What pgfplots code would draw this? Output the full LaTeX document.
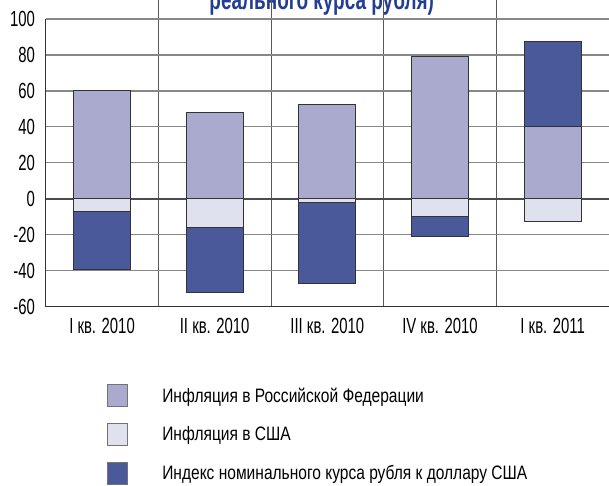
\documentclass[border=0pt]{standalone}
\usepackage{fontspec}
\setmainfont{Liberation Sans}[FakeStretch=0.68]
\newfontfamily\legfont{Liberation Sans}[FakeStretch=0.8]
\usepackage{pgfplots}
\pgfplotsset{compat=1.18}

\definecolor{rfinf}{RGB}{169,170,206}
\definecolor{usinf}{RGB}{223,225,238}
\definecolor{rubidx}{RGB}{74,89,154}
\definecolor{ttlblue}{RGB}{35,62,142}
\definecolor{gridgray}{RGB}{135,135,135}

\begin{document}
\begin{tikzpicture}
\useasboundingbox (-45.7bp,-179.3bp) rectangle (563.3bp,306.7bp);
% title is cut off by the top edge in the source
\node[anchor=base, font=\fontsize{28}{28}\selectfont\bfseries, text=ttlblue]
  at (276bp,297.2bp) {реального курса рубля)};
\begin{axis}[
    scale only axis,
    width=563.3bp, height=306.7bp,
    at={(0,0)}, anchor=south west,
    xmin=-0.5, xmax=4.5,
    ymin=-60, ymax=110.57,
    ytick={-60,-40,...,100},
    xtick={0.5,1.5,2.5,3.5}, xticklabels={},
    extra x ticks={0,1,2,3,4},
    extra x tick labels={I кв. 2010, II кв. 2010, III кв. 2010, IV кв. 2010, I кв. 2011},
    extra x tick style={grid=none},
    major tick length=0pt,
    grid=major,
    major y grid style={gridgray, line width=1.2bp},
    major x grid style={black!65, line width=1bp},
    extra y ticks={0}, extra y tick labels={},
    extra y tick style={major y grid style={black!70, line width=1.6bp}},
    axis lines=left,
    axis line style={-, black!80, line width=1.3bp},
    y axis line style={shorten >=19bp},
    /pgf/number format/assume math mode=true,
    ticklabel style={font=\fontsize{22}{22}\selectfont},
    yticklabel style={anchor=east, inner sep=0pt, xshift=-10.5bp},
    xticklabel style={anchor=north, inner sep=0pt, yshift=-11bp},
    ybar, bar width=57bp, bar shift=0pt,
    legend cell align=left,
    legend style={at={(rel axis cs:0.1083,-0.252)}, anchor=north west,
        draw=none, fill=none, font=\legfont\fontsize{19.5}{19.5}\selectfont,
        row sep=16bp, inner sep=0pt,
        nodes={inner sep=0pt, anchor=west}},
    legend image code/.code={
        \draw[#1, draw=black!55, line width=0.8bp] (0bp,-11bp) rectangle (20bp,11bp);
        \path[draw=none, fill=none] (0bp,0bp) -- (55bp,0bp);},
]
\addlegendimage{fill=rfinf}
\addlegendentry{Инфляция в Российской Федерации}
\addlegendimage{fill=usinf}
\addlegendentry{Инфляция в США}
\addlegendimage{fill=rubidx}
\addlegendentry{Индекс номинального курса рубля к доллару США}

% outer end of each bar (ruble index segment drawn full length, others on top)
\addplot[forget plot, fill=rubidx, draw=black!80, line width=1bp] coordinates {
  (0,-39.5) (1,-52) (2,-47.2) (3,-20.7) (4,87.6)};
% inflation in Russia
\addplot[forget plot, fill=rfinf, draw=black!80, line width=1bp] coordinates {
  (0,60.2) (1,48) (2,52.4) (3,79) (4,40)};
% inflation in USA
\addplot[forget plot, fill=usinf, draw=black!80, line width=1bp] coordinates {
  (0,-7) (1,-16.1) (2,-2) (3,-9.7) (4,-12.4)};
\end{axis}
\end{tikzpicture}
\end{document}
